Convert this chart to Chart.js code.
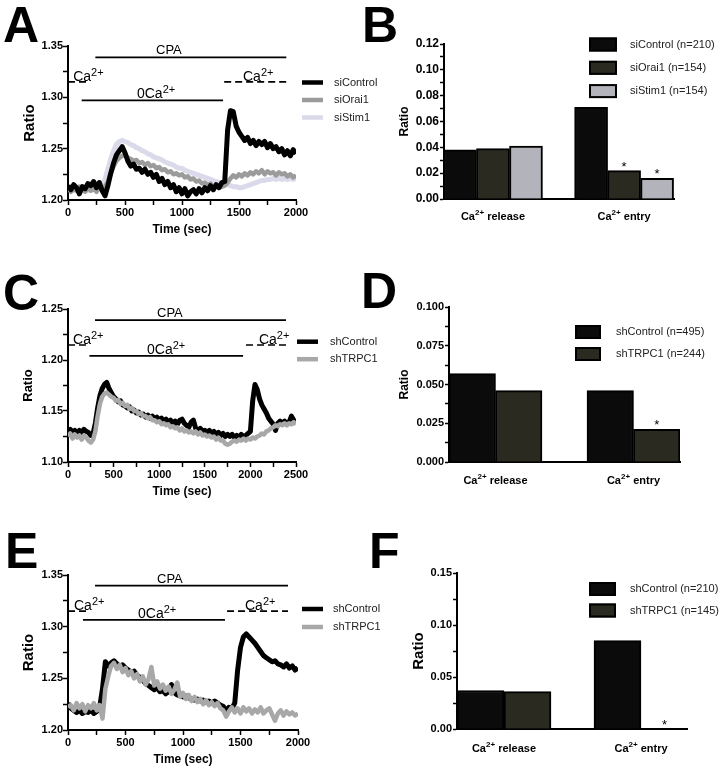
<!DOCTYPE html>
<html><head><meta charset="utf-8">
<script src="https://cdn.jsdelivr.net/npm/chart.js@4.4.1/dist/chart.umd.min.js"></script>
<style>
html,body{margin:0;padding:0;background:#fff;}
#wrap{position:relative;width:724px;height:770px;overflow:hidden;background:#fff;}
canvas{position:absolute;}
.lt{position:absolute;font-family:'Liberation Sans',Arial,sans-serif;font-weight:bold;font-size:50px;line-height:50px;color:#000;}
</style></head><body>
<div id="wrap">
<canvas id="cA" width="390" height="250" style="left:0;top:0"></canvas>
<canvas id="cC" width="390" height="250" style="left:0;top:260px"></canvas>
<canvas id="cE" width="390" height="250" style="left:0;top:520px"></canvas>
<canvas id="cB" width="362" height="250" style="left:362px;top:0"></canvas>
<canvas id="cD" width="362" height="250" style="left:362px;top:260px"></canvas>
<canvas id="cF" width="362" height="250" style="left:362px;top:520px"></canvas>
<div class="lt" style="left:3px;top:0">A</div>
<div class="lt" style="left:362px;top:0">B</div>
<div class="lt" style="left:3px;top:268px">C</div>
<div class="lt" style="left:361px;top:266px">D</div>
<div class="lt" style="left:5px;top:526px">E</div>
<div class="lt" style="left:369px;top:526px">F</div>
</div>
<script>
// ---------------- DATA ----------------
// Traces: one value every STEP seconds, starting at t = 0
const STEP = 25;
// Panel A (0-2000 s)
const siControlA = [
 1.214,1.210,1.215,1.212,1.206,1.213,1.211,1.216,1.214,1.218,
 1.212,1.217,1.209,1.204,1.214,1.226,1.236,1.244,1.248,1.252,
 1.246,1.238,1.233,1.235,1.230,1.231,1.227,1.230,1.225,1.227,
 1.222,1.225,1.218,1.221,1.215,1.218,1.212,1.215,1.208,1.212,
 1.206,1.211,1.204,1.208,1.210,1.206,1.211,1.207,1.212,1.209,
 1.214,1.210,1.215,1.212,1.217,1.218,1.268,1.287,1.286,1.272,
 1.266,1.262,1.258,1.261,1.255,1.258,1.253,1.257,1.254,1.257,
 1.251,1.255,1.250,1.252,1.247,1.250,1.244,1.248,1.243,1.249,
 1.245];
const siOrai1A = [
 1.212,1.208,1.211,1.209,1.213,1.210,1.208,1.212,1.209,1.211,
 1.208,1.212,1.210,1.213,1.218,1.226,1.233,1.238,1.241,1.243,
 1.244,1.241,1.240,1.238,1.239,1.236,1.237,1.234,1.236,1.233,
 1.234,1.231,1.232,1.229,1.230,1.227,1.228,1.225,1.226,1.224,
 1.225,1.222,1.223,1.220,1.221,1.218,1.219,1.216,1.217,1.215,
 1.216,1.213,1.214,1.212,1.213,1.214,1.217,1.221,1.224,1.222,
 1.225,1.223,1.226,1.224,1.227,1.225,1.228,1.226,1.229,1.225,
 1.228,1.226,1.227,1.224,1.227,1.225,1.226,1.223,1.225,1.222,
 1.224];
const siStim1A = [
 1.210,1.212,1.209,1.211,1.210,1.213,1.211,1.209,1.212,1.210,
 1.213,1.211,1.214,1.220,1.230,1.240,1.248,1.254,1.257,1.258,
 1.257,1.256,1.254,1.253,1.251,1.250,1.248,1.247,1.245,1.244,
 1.242,1.241,1.240,1.239,1.237,1.236,1.235,1.234,1.232,1.231,
 1.231,1.229,1.228,1.227,1.226,1.225,1.224,1.223,1.222,1.221,
 1.220,1.219,1.218,1.217,1.216,1.216,1.215,1.214,1.213,1.213,
 1.212,1.212,1.213,1.214,1.215,1.216,1.217,1.218,1.219,1.219,
 1.220,1.220,1.221,1.220,1.221,1.220,1.221,1.220,1.221,1.220,
 1.221];
// Panel C (0-2500 s)
const shControlC = [
 1.130,1.132,1.129,1.131,1.128,1.131,1.129,1.132,1.130,1.129,
 1.126,1.128,1.138,1.153,1.165,1.172,1.176,1.178,1.172,1.168,
 1.164,1.162,1.159,1.160,1.156,1.155,1.153,1.154,1.150,1.151,
 1.148,1.149,1.146,1.147,1.144,1.146,1.143,1.145,1.142,1.144,
 1.141,1.143,1.140,1.142,1.139,1.141,1.138,1.140,1.137,1.141,
 1.142,1.138,1.136,1.134,1.139,1.141,1.133,1.131,1.133,1.130,
 1.131,1.129,1.131,1.128,1.130,1.127,1.129,1.126,1.128,1.125,
 1.127,1.125,1.127,1.124,1.126,1.124,1.127,1.125,1.126,1.128,
 1.130,1.160,1.176,1.171,1.162,1.156,1.152,1.148,1.143,1.140,
 1.137,1.131,1.138,1.140,1.138,1.140,1.137,1.139,1.145,1.141,
 1.138];
const shTRPC1C = [
 1.125,1.128,1.123,1.127,1.124,1.126,1.122,1.126,1.124,1.121,
 1.119,1.122,1.130,1.145,1.157,1.164,1.167,1.168,1.166,1.164,
 1.163,1.160,1.161,1.157,1.158,1.155,1.156,1.152,1.153,1.150,
 1.150,1.147,1.148,1.145,1.145,1.143,1.144,1.141,1.141,1.139,
 1.140,1.137,1.138,1.136,1.137,1.134,1.135,1.133,1.134,1.131,
 1.133,1.130,1.131,1.129,1.130,1.128,1.130,1.127,1.129,1.126,
 1.127,1.125,1.126,1.124,1.125,1.122,1.124,1.121,1.121,1.118,
 1.117,1.118,1.120,1.121,1.120,1.122,1.121,1.123,1.121,1.123,
 1.122,1.124,1.123,1.125,1.126,1.128,1.127,1.130,1.131,1.133,
 1.134,1.136,1.135,1.137,1.136,1.138,1.136,1.138,1.137,1.139,
 1.137];
// Panel E (0-2000 s)
const shControlE = [
 1.226,1.221,1.219,1.217,1.219,1.216,1.218,1.217,1.219,1.216,
 1.218,1.222,1.240,1.266,1.262,1.265,1.267,1.264,1.262,1.263,
 1.260,1.258,1.256,1.257,1.253,1.251,1.248,1.245,1.243,1.241,
 1.239,1.241,1.237,1.238,1.235,1.237,1.244,1.236,1.234,1.233,
 1.232,1.233,1.231,1.230,1.229,1.230,1.228,1.229,1.227,1.228,
 1.226,1.228,1.226,1.224,1.223,1.218,1.222,1.221,1.226,1.258,
 1.280,1.290,1.293,1.290,1.287,1.284,1.280,1.276,1.272,1.270,
 1.268,1.266,1.267,1.264,1.263,1.261,1.264,1.260,1.262,1.258,
 1.260];
const shTRPC1E = [
 1.222,1.224,1.219,1.226,1.221,1.225,1.218,1.224,1.221,1.226,
 1.219,1.224,1.211,1.240,1.252,1.262,1.265,1.259,1.263,1.256,
 1.260,1.253,1.257,1.250,1.254,1.247,1.252,1.244,1.249,1.261,
 1.243,1.247,1.240,1.244,1.238,1.242,1.235,1.239,1.246,1.232,
 1.236,1.230,1.234,1.228,1.232,1.227,1.230,1.225,1.229,1.224,
 1.227,1.223,1.226,1.221,1.219,1.213,1.218,1.222,1.217,1.221,
 1.216,1.222,1.218,1.221,1.216,1.220,1.217,1.222,1.216,1.219,
 1.221,1.215,1.209,1.216,1.219,1.214,1.218,1.215,1.217,1.214,
 1.216];

// Bar panels
const barCategories = ['Ca^2+ release', 'Ca^2+ entry'];
const siControlB = [0.038, 0.071];
const siOrai1B   = [0.039, 0.022];
const siStim1B   = [0.041, 0.016];
const starsOrai1B = ['', '*'];
const starsStim1B = ['', '*'];
const shControlD = [0.057, 0.046];
const shTRPC1D   = [0.046, 0.021];
const starsTRPC1D = ['', '*'];
const shControlF = [0.037, 0.085];
const shTRPC1F   = [0.036, 0.000];
const starsTRPC1F = ['', '*'];

// Protocol bars (data units)
const annotA = [
 {x0:240, x1:1915, y:1.339, dashed:false, text:'CPA', tx:772, dy:-3, size:13},
 {x0:0, x1:180, y:1.315, dashed:true, text:'Ca^2+', tx:45, dy:-1, size:14},
 {x0:120, x1:1360, y:1.297, dashed:false, text:'0Ca^2+', tx:605, dy:-2, size:14},
 {x0:1370, x1:1915, y:1.315, dashed:true, text:'Ca^2+', tx:1535, dy:-1, size:14}
];
const annotC = [
 {x0:296, x1:2390, y:1.239, dashed:false, text:'CPA', tx:976, dy:-3, size:13},
 {x0:0, x1:220, y:1.2147, dashed:true, text:'Ca^2+', tx:55, dy:-1, size:14},
 {x0:235, x1:1920, y:1.204, dashed:false, text:'0Ca^2+', tx:866, dy:-2, size:14},
 {x0:1952, x1:2400, y:1.2147, dashed:true, text:'Ca^2+', tx:2094, dy:-1, size:14}
];
const annotE = [
 {x0:235, x1:1913, y:1.3397, dashed:false, text:'CPA', tx:774, dy:-3, size:13},
 {x0:0, x1:190, y:1.315, dashed:true, text:'Ca^2+', tx:52, dy:-1, size:14},
 {x0:130, x1:1365, y:1.3065, dashed:false, text:'0Ca^2+', tx:609, dy:-2, size:14},
 {x0:1383, x1:1913, y:1.315, dashed:true, text:'Ca^2+', tx:1539, dy:-1, size:14}
];

// ---------------- RENDERING ----------------
const FONT = "'Liberation Sans', Arial, sans-serif";
Chart.defaults.font.family = FONT;
Chart.defaults.color = '#000';

function drawRich(ctx, text, x, y, size, bold, supSize, raise, align) {
  const w = bold ? 'bold ' : '';
  const parts = [];
  const i = text.indexOf('^');
  if (i < 0) parts.push({t:text, sup:false});
  else {
    parts.push({t:text.slice(0, i), sup:false});
    const rest = text.slice(i + 1);
    let j = rest.indexOf(' ');
    if (j < 0) j = rest.length;
    parts.push({t:rest.slice(0, j), sup:true});
    if (j < rest.length) parts.push({t:rest.slice(j), sup:false});
  }
  let total = 0;
  parts.forEach(p => { ctx.font = w + (p.sup ? supSize : size) + 'px ' + FONT; p.w = ctx.measureText(p.t).width; total += p.w; });
  let cx = align === 'center' ? x - total / 2 : x;
  ctx.textAlign = 'left';
  parts.forEach(p => {
    ctx.font = w + (p.sup ? supSize : size) + 'px ' + FONT;
    ctx.fillText(p.t, cx, p.sup ? y - raise : y);
    cx += p.w;
  });
}

const annotPlugin = {
  id: 'annot',
  afterDatasetsDraw(chart, args, o) {
    if (!o || !o.items) return;
    const ctx = chart.ctx, xs = chart.scales.x, ys = chart.scales.y;
    ctx.save();
    ctx.strokeStyle = '#000'; ctx.fillStyle = '#000'; ctx.lineWidth = 1.7;
    o.items.forEach(a => {
      const x0 = xs.getPixelForValue(a.x0), x1 = xs.getPixelForValue(a.x1), y = ys.getPixelForValue(a.y);
      ctx.setLineDash(a.dashed ? [7, 4] : []);
      ctx.beginPath(); ctx.moveTo(x0, y); ctx.lineTo(x1, y); ctx.stroke();
      ctx.setLineDash([]);
      ctx.textBaseline = 'alphabetic';
      drawRich(ctx, a.text, xs.getPixelForValue(a.tx), y + a.dy, a.size, false, 11, 5, 'left');
    });
    ctx.restore();
  }
};

const legendPlugin = {
  id: 'customLegend',
  afterDraw(chart, args, o) {
    if (!o || o.x === undefined) return;
    const ctx = chart.ctx;
    ctx.save();
    chart.data.datasets.forEach((ds, i) => {
      const y = o.y + i * o.dy;
      if (o.kind === 'line') {
        ctx.strokeStyle = ds.borderColor; ctx.lineWidth = 4.5; ctx.lineCap = 'butt';
        ctx.beginPath(); ctx.moveTo(o.x, y); ctx.lineTo(o.x + o.w, y); ctx.stroke();
      } else {
        ctx.fillStyle = ds.backgroundColor; ctx.fillRect(o.x, y - o.h / 2, o.w, o.h);
        ctx.strokeStyle = '#000'; ctx.lineWidth = 2; ctx.strokeRect(o.x + 1, y - o.h / 2 + 1, o.w - 2, o.h - 2);
      }
      ctx.fillStyle = '#222'; ctx.font = '11px ' + FONT; ctx.textBaseline = 'middle'; ctx.textAlign = 'left';
      ctx.fillText(ds.label, o.tx, y);
    });
    ctx.restore();
  }
};

const catPlugin = {
  id: 'catLabels',
  afterDraw(chart, args, o) {
    if (!o || o.dy === undefined) return;
    const xs = chart.scales.x, ctx = chart.ctx;
    ctx.save(); ctx.fillStyle = '#000'; ctx.textBaseline = 'alphabetic';
    chart.data.labels.forEach((lab, i) => {
      drawRich(ctx, lab, xs.getPixelForValue(i), xs.top + o.dy, 11, true, 8, 5, 'center');
    });
    ctx.restore();
  }
};

const starPlugin = {
  id: 'stars',
  afterDatasetsDraw(chart) {
    const ctx = chart.ctx;
    ctx.save(); ctx.fillStyle = '#000'; ctx.font = '13px ' + FONT; ctx.textAlign = 'center'; ctx.textBaseline = 'alphabetic';
    chart.data.datasets.forEach((ds, di) => {
      if (!ds.stars) return;
      chart.getDatasetMeta(di).data.forEach((bar, i) => { if (ds.stars[i]) ctx.fillText(ds.stars[i], bar.x, bar.y); });
    });
    ctx.restore();
  }
};

Chart.register(annotPlugin, legendPlugin, catPlugin, starPlugin);

function majorLabel(major, dec) {
  return v => Math.abs(v / major - Math.round(v / major)) < 1e-6 ? v.toFixed(dec) : '';
}
const toPts = vals => vals.map((v, i) => ({x: i * STEP, y: v}));

function lineDs(label, vals, color, order, width) {
  return {label, data: toPts(vals), borderColor: color, backgroundColor: color, borderWidth: width,
          pointRadius: 0, tension: 0, fill: false, borderJoinStyle: 'round', order};
}

function lineChart(id, datasets, L) {
  return new Chart(document.getElementById(id), {
    type: 'line',
    data: {datasets},
    options: {
      responsive: false, animation: false, events: [],
      layout: {padding: {top: L.top, right: L.right, left: 0, bottom: 0}},
      plugins: {legend: {display: false}, tooltip: {enabled: false},
        annot: {items: L.annot},
        customLegend: {kind: 'line', x: L.lx, y: L.ly, dy: L.ldy, w: 21, tx: L.ltx}},
      scales: {
        x: {type: 'linear', min: 0, max: L.xMax,
            afterFit: s => { s.height = L.xH; },
            border: {display: true, color: '#000', width: 2},
            grid: {display: true, drawOnChartArea: false, drawTicks: true, tickLength: 5, tickWidth: 1.5, tickColor: '#000'},
            ticks: {stepSize: 250, autoSkip: false, maxRotation: 0, padding: 1, color: '#000',
                    font: {size: 11, weight: 'bold'}, callback: majorLabel(500, 0)},
            title: {display: true, text: 'Time (sec)', color: '#000', font: {size: 12, weight: 'bold'},
                    padding: {top: 0, bottom: L.xtPad}}},
        y: {type: 'linear', min: L.yMin, max: L.yMax,
            afterFit: s => { s.width = 68; },
            border: {display: true, color: '#000', width: 2},
            grid: {display: true, drawOnChartArea: false, drawTicks: true, tickLength: 5, tickWidth: 1.5, tickColor: '#000'},
            ticks: {stepSize: 0.025, autoSkip: false, padding: 0, color: '#000',
                    font: {size: 11, weight: 'bold'}, callback: majorLabel(0.05, 2)},
            title: {display: true, text: 'Ratio', color: '#000', font: {size: L.ytSize, weight: 'bold'},
                    padding: {top: L.ytPad, bottom: 0}}}
      }
    }
  });
}

function barDs(label, vals, color, stars) {
  return {label, data: vals, backgroundColor: color, borderColor: '#000', borderWidth: 2, stars};
}

function barChart(id, datasets, L) {
  const placeGroups = s => { const R = 1 / (L.d1 - L.d0); s._startValue = -L.d0 * R; s._valueRange = R; };
  return new Chart(document.getElementById(id), {
    type: 'bar',
    data: {labels: barCategories, datasets},
    options: {
      responsive: false, animation: false, events: [],
      barThickness: L.bw,
      layout: {padding: {top: L.top, right: L.right, left: 0, bottom: 0}},
      plugins: {legend: {display: false}, tooltip: {enabled: false},
        customLegend: {kind: 'box', x: L.lx, y: L.ly, dy: L.ldy, w: L.lw, h: 14, tx: L.ltx},
        catLabels: {dy: L.cdy}},
      scales: {
        x: {type: 'category', offset: true,
            afterBuildTicks: placeGroups, afterUpdate: placeGroups,
            afterFit: s => { s.height = L.xH; },
            border: {display: true, color: '#000', width: 2},
            grid: {display: false}, ticks: {display: false}},
        y: {type: 'linear', min: 0, max: L.yMax,
            afterFit: s => { s.width = L.yW; },
            border: {display: true, color: '#000', width: 2},
            grid: {display: true, drawOnChartArea: false, drawTicks: true, tickLength: 4, tickWidth: 1.5, tickColor: '#000'},
            ticks: {stepSize: L.step, autoSkip: false, padding: 1, color: '#000',
                    font: {size: L.tSize, weight: 'bold'}, callback: majorLabel(L.major, L.dec)},
            title: {display: true, text: 'Ratio', color: '#000', font: {size: L.ytSize, weight: 'bold'},
                    padding: {top: L.ytPad, bottom: 0}}}
      }
    }
  });
}

// Panel A
lineChart('cA', [
  lineDs('siControl', siControlA, '#000000', 0, 5),
  lineDs('siOrai1', siOrai1A, '#9b9b9b', 1, 4.5),
  lineDs('siStim1', siStim1A, '#dadaea', 2, 5)
], {top: 46, right: 94, xH: 50, xMax: 2000, yMin: 1.20, yMax: 1.35, xtPad: 12.8, ytSize: 15, ytPad: 21,
    annot: annotA, lx: 302, ly: 82.5, ldy: 17.5, ltx: 334});

// Panel C
lineChart('cC', [
  lineDs('shControl', shControlC, '#000000', 1, 5),
  lineDs('shTRPC1', shTRPC1C, '#a8a8a8', 0, 4.5)
], {top: 49, right: 94, xH: 48, xMax: 2500, yMin: 1.10, yMax: 1.25, xtPad: 10.8, ytSize: 13, ytPad: 21,
    annot: annotC, lx: 297, ly: 81.7, ldy: 17.5, ltx: 330});

// Panel E
lineChart('cE', [
  lineDs('shControl', shControlE, '#000000', 1, 5),
  lineDs('shTRPC1', shTRPC1E, '#a8a8a8', 0, 4.5)
], {top: 55, right: 92, xH: 40, xMax: 2000, yMin: 1.20, yMax: 1.35, xtPad: 2.8, ytSize: 15, ytPad: 20,
    annot: annotE, lx: 302, ly: 89, ldy: 18, ltx: 333});

// Panel B
barChart('cB', [
  barDs('siControl (n=210)', siControlB, '#0b0b0b'),
  barDs('siOrai1 (n=154)', siOrai1B, '#2b2a21', starsOrai1B),
  barDs('siStim1 (n=154)', siStim1B, '#b3b3bb', starsStim1B)
], {top: 44, right: 50, xH: 51, yW: 82, yMax: 0.12, step: 0.01, major: 0.02, dec: 2, tSize: 12,
    ytSize: 12, ytPad: 35.8, d0: 0.213, d1: 0.783, bw: 33, cdy: 21,
    lx: 227, ly: 44.5, ldy: 23.3, lw: 28, ltx: 268});

// Panel D
barChart('cD', [
  barDs('shControl (n=495)', shControlD, '#0b0b0b'),
  barDs('shTRPC1 (n=244)', shTRPC1D, '#2b2a21', starsTRPC1D)
], {top: 47, right: 44, xH: 48, yW: 87, yMax: 0.1, step: 0.0125, major: 0.025, dec: 3, tSize: 11,
    ytSize: 12, ytPad: 35.8, d0: 0.2013, d1: 0.7987, bw: 46.5, cdy: 22,
    lx: 213, ly: 72, ldy: 22, lw: 26, ltx: 254});

// Panel F
barChart('cF', [
  barDs('shControl (n=210)', shControlF, '#0b0b0b'),
  barDs('shTRPC1 (n=145)', shTRPC1F, '#2b2a21', starsTRPC1F)
], {top: 53, right: 37, xH: 41, yW: 95, yMax: 0.15, step: 0.025, major: 0.05, dec: 2, tSize: 11,
    ytSize: 15, ytPad: 48, d0: 0.2043, d1: 0.8, bw: 47, cdy: 22.7,
    lx: 227, ly: 69, ldy: 21.5, lw: 27, ltx: 268});
</script>
</body></html>
